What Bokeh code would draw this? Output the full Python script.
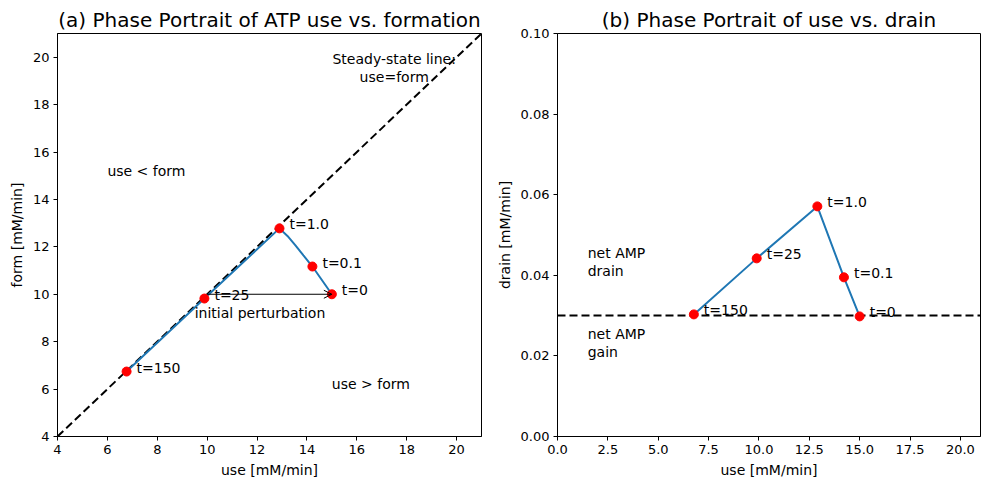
from bokeh.plotting import figure
from bokeh.layouts import row
from bokeh.models import Range1d, FixedTicker, NumeralTickFormatter, Arrow, OpenHead
from bokeh.core.properties import value
from bokeh.embed import file_html
from bokeh.resources import INLINE

# Labelled time points along the trajectory
t_labels = ["t=0", "t=0.1", "t=1.0", "t=25", "t=150"]
use_pts = [15.0, 14.22, 12.9, 9.89, 6.77]
form_pts = [10.0, 11.17, 12.78, 9.82, 6.74]
drain_pts = [0.0298, 0.0395, 0.0571, 0.0442, 0.0303]

# Smooth use/form trajectory (extra samples along the bend)
curve_use = [15.0, 14.22, 13.86, 13.54, 13.22, 12.9, 9.89, 6.77]
curve_form = [10.0, 11.17, 11.64, 12.06, 12.46, 12.78, 9.82, 6.74]

# Steady-state references
steady_line = [4, 21]
drain_steady = 0.03
perturb_start = (10.0, 10.0)
perturb_end = (15.0, 10.0)

left_ticks = [4, 6, 8, 10, 12, 14, 16, 18, 20]
right_xticks = [0, 2.5, 5, 7.5, 10, 12.5, 15, 17.5, 20]
right_yticks = [0.0, 0.02, 0.04, 0.06, 0.08, 0.10]

FONT = "DejaVu Sans"
BLUE = "#1f77b4"
FS = "14px"
TICK_FS = "13px"


def style(p):
    p.title.text_font = FONT
    p.title.text_font_size = "20px"
    p.title.text_font_style = "normal"
    p.title.text_color = "black"
    p.title.align = "center"
    p.title.standoff = 4
    p.outline_line_color = "black"
    p.outline_line_width = 1
    p.grid.visible = False
    p.background_fill_color = "white"
    p.border_fill_color = "white"
    for ax in (p.xaxis, p.yaxis):
        ax.axis_label_text_font = FONT
        ax.axis_label_text_font_size = FS
        ax.axis_label_text_font_style = "normal"
        ax.axis_label_text_color = "black"
        ax.major_label_text_font = FONT
        ax.major_label_text_font_size = TICK_FS
        ax.major_label_text_color = "black"
        ax.major_tick_in = 0
        ax.major_tick_out = 4
        ax.major_tick_line_color = "black"
        ax.minor_tick_line_color = None
        ax.axis_line_color = "black"
        ax.major_label_standoff = 4
        ax.axis_label_standoff = 5


def note(p, x, y, txt, **kw):
    p.text([x], [y], text=[txt], text_font=value(FONT), text_font_size=FS,
           text_color="black", text_line_height=1.15, **kw)


# (a) use vs. form
p1 = figure(width=489, height=490, output_backend="svg", toolbar_location=None,
            x_range=Range1d(4, 21), y_range=Range1d(4, 21),
            title="(a) Phase Portrait of ATP use vs. formation",
            min_border_left=57, min_border_right=8, min_border_top=33, min_border_bottom=54)
style(p1)
p1.xaxis.axis_label = "use [mM/min]"
p1.yaxis.axis_label = "form [mM/min]"
p1.xaxis.ticker = FixedTicker(ticks=left_ticks)
p1.yaxis.ticker = FixedTicker(ticks=left_ticks)

p1.line(steady_line, steady_line, line_color="black", line_dash="8 4", line_width=2)
p1.line(curve_use, curve_form, line_color=BLUE, line_width=2)
p1.add_layout(Arrow(end=OpenHead(size=8, line_color="black", line_width=1),
                    x_start=perturb_start[0], y_start=perturb_start[1],
                    x_end=perturb_end[0], y_end=perturb_end[1],
                    line_color="black", line_width=1))
p1.scatter(use_pts, form_pts, size=9, fill_color="red", line_color="red")
p1.text(use_pts, form_pts, text=t_labels, x_offset=10, y_offset=-4,
        text_baseline="middle", text_font=value(FONT), text_font_size=FS, text_color="black")

note(p1, 9.5, 9.2, "initial perturbation", text_baseline="middle")
note(p1, 6.0, 15.0, "use < form", text_baseline="alphabetic", y_offset=-5)
note(p1, 15.0, 6.0, "use > form", text_baseline="alphabetic", y_offset=-5)
note(p1, 17.5, 19.0, "Steady-state line:\nuse=form", text_align="center",
     text_baseline="alphabetic", y_offset=-13)

# (b) use vs. drain
p2 = figure(width=500, height=490, output_backend="svg", toolbar_location=None,
            x_range=Range1d(0, 21), y_range=Range1d(0, 0.1),
            title="(b) Phase Portrait of use vs. drain",
            min_border_left=68, min_border_right=9, min_border_top=33, min_border_bottom=54)
style(p2)
p2.xaxis.axis_label = "use [mM/min]"
p2.yaxis.axis_label = "drain [mM/min]"
p2.xaxis.ticker = FixedTicker(ticks=right_xticks)
p2.yaxis.ticker = FixedTicker(ticks=right_yticks)
p2.xaxis.formatter = NumeralTickFormatter(format="0.0")
p2.yaxis.formatter = NumeralTickFormatter(format="0.00")

p2.line([0, 21], [drain_steady, drain_steady], line_color="black", line_dash="8 4", line_width=2)
p2.line(use_pts, drain_pts, line_color=BLUE, line_width=2)
p2.scatter(use_pts, drain_pts, size=9, fill_color="red", line_color="red")
p2.text(use_pts, drain_pts, text=t_labels, x_offset=10, y_offset=-4,
        text_baseline="middle", text_font=value(FONT), text_font_size=FS, text_color="black")
note(p2, 1.5, 0.04, "net AMP\ndrain", text_baseline="alphabetic", y_offset=-13)
note(p2, 1.5, 0.02, "net AMP\ngain", text_baseline="alphabetic", y_offset=-13)

layout = row(p1, p2)
open("out.html", "w").write(file_html(layout, INLINE))
